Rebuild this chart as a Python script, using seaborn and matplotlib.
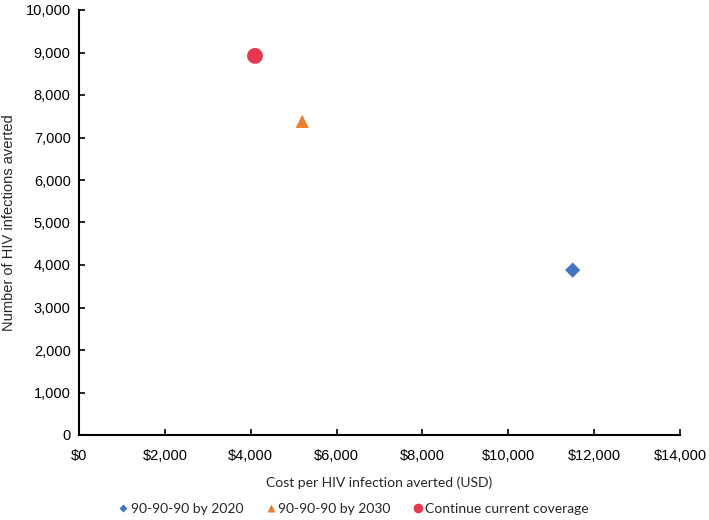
import matplotlib
matplotlib.use("Agg")
import matplotlib.pyplot as plt
import seaborn as sns
import pandas as pd
from matplotlib.ticker import FuncFormatter, MultipleLocator
from matplotlib.lines import Line2D

scenarios = ["90-90-90 by 2020", "90-90-90 by 2030", "Continue current coverage"]
cost_per_infection = [11500, 5200, 4100]
infections_averted = [3880, 7380, 8920]
colors = ["#4472C4", "#ED7D31", "#E8384F"]
markers = ["D", "^", "o"]
sizes = [60, 90, 130]

df = pd.DataFrame({"scenario": scenarios, "cost": cost_per_infection, "averted": infections_averted})

sns.set_style("white")
plt.rcParams['font.family'] = ['Liberation Sans', 'DejaVu Sans']

fig = plt.figure(figsize=(7.09, 5.20), dpi=100)
ax = fig.add_axes([79/709, 1 - 435/520, (680 - 79)/709, (435 - 10)/520])

for sc, c, m, s in zip(scenarios, colors, markers, sizes):
    sub = df[df["scenario"] == sc]
    sns.scatterplot(data=sub, x="cost", y="averted", color=c, marker=m, s=s,
                    edgecolor="none", ax=ax, legend=False, zorder=3)

ax.set_xlim(0, 14000)
ax.set_ylim(0, 10000)
ax.xaxis.set_major_locator(MultipleLocator(2000))
ax.yaxis.set_major_locator(MultipleLocator(1000))
ax.xaxis.set_major_formatter(FuncFormatter(lambda v, p: f"${v:,.0f}"))
ax.yaxis.set_major_formatter(FuncFormatter(lambda v, p: f"{v:,.0f}"))
ax.tick_params(axis="both", direction="in", length=4, width=1.2, labelsize=10.5, colors="black")
ax.tick_params(axis="x", pad=10)
ax.tick_params(axis="y", pad=6)
ax.xaxis.set_ticks_position("bottom")
ax.yaxis.set_ticks_position("left")
for side in ["top", "right"]:
    ax.spines[side].set_visible(False)
for side in ["left", "bottom"]:
    ax.spines[side].set_color("black")
    ax.spines[side].set_linewidth(1.5)
ax.grid(False)

ax.set_xlabel("Cost per HIV infection averted (USD)", family=["Lato", "DejaVu Sans"], fontsize=10, labelpad=10)
ax.set_ylabel("Number of HIV infections averted", fontsize=10.5, labelpad=7)

handles = [Line2D([0], [0], marker=m, color="none", markerfacecolor=c, markeredgecolor="none",
                  markersize=ms) for c, m, ms in zip(colors, markers, [4.5, 5.5, 7])]
fig.legend(handles, scenarios, loc="center", bbox_to_anchor=(0.5, 1 - 509/520), ncol=3,
           frameon=False, prop={"family": ["Lato", "DejaVu Sans"], "size": 10},
           handlelength=0.5, handletextpad=0.3, columnspacing=1.7)

fig.savefig("out.png", dpi=100)
